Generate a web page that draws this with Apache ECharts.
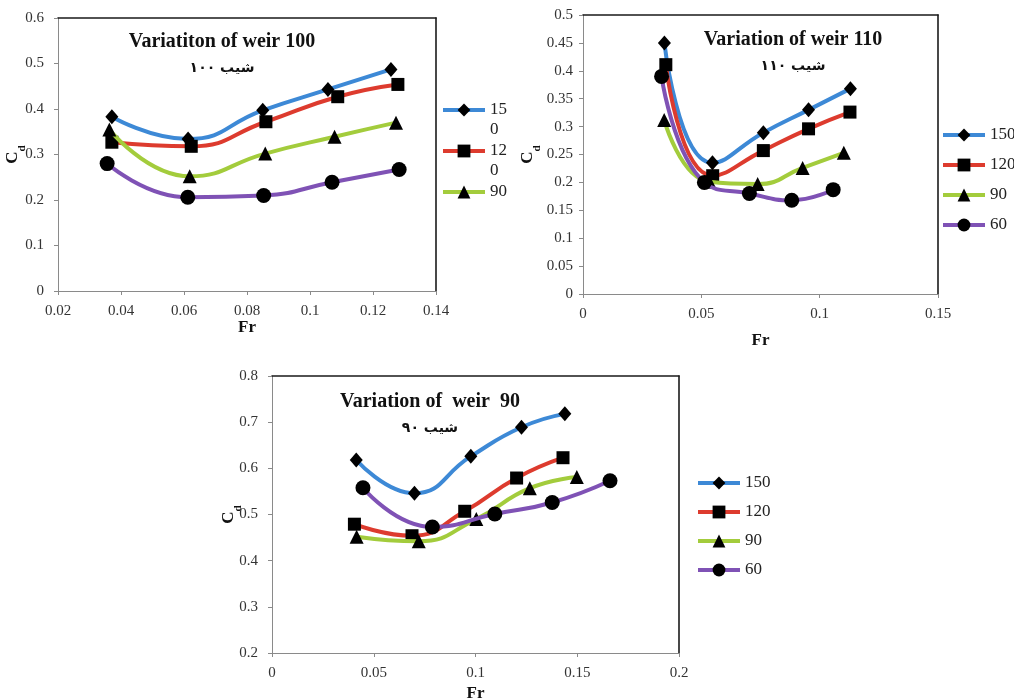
<!DOCTYPE html>
<html><head><meta charset="utf-8">
<script src="https://cdn.jsdelivr.net/npm/echarts@6/dist/echarts.min.js"></script>
<style>html,body{margin:0;padding:0;background:#fff}#c{width:1014px;height:698px}</style>
</head><body><div id="c"></div>
<script>
// ---- Weir 100 ----
const w100_fr_150 = [0.0371, 0.0613, 0.0850, 0.1057, 0.1257];
const w100_cd_150 = [0.383, 0.334, 0.397, 0.443, 0.487];
const w100_fr_120 = [0.0371, 0.0623, 0.0860, 0.1088, 0.1279];
const w100_cd_120 = [0.327, 0.318, 0.372, 0.427, 0.454];
const w100_fr_90  = [0.0363, 0.0618, 0.0858, 0.1078, 0.1273];
const w100_cd_90  = [0.355, 0.252, 0.302, 0.339, 0.370];
const w100_fr_60  = [0.0356, 0.0612, 0.0853, 0.1070, 0.1283];
const w100_cd_60  = [0.280, 0.206, 0.210, 0.239, 0.267];
// ---- Weir 110 ----
const w110_fr_150 = [0.0344, 0.0547, 0.0762, 0.0953, 0.1130];
const w110_cd_150 = [0.450, 0.235, 0.289, 0.330, 0.368];
const w110_fr_120 = [0.0350, 0.0548, 0.0762, 0.0953, 0.1128];
const w110_cd_120 = [0.411, 0.212, 0.257, 0.296, 0.326];
const w110_fr_90  = [0.0343, 0.0534, 0.0738, 0.0928, 0.1102];
const w110_cd_90  = [0.312, 0.201, 0.197, 0.226, 0.253];
const w110_fr_60  = [0.0332, 0.0513, 0.0703, 0.0882, 0.1057];
const w110_cd_60  = [0.390, 0.200, 0.180, 0.168, 0.187];
// ---- Weir 90 ----
const w90_fr_150 = [0.0414, 0.0700, 0.0977, 0.1226, 0.1439];
const w90_cd_150 = [0.618, 0.546, 0.626, 0.689, 0.718];
const w90_fr_120 = [0.0405, 0.0688, 0.0947, 0.1202, 0.1430];
const w90_cd_120 = [0.479, 0.454, 0.507, 0.579, 0.623];
const w90_fr_90  = [0.0416, 0.0721, 0.1004, 0.1267, 0.1498];
const w90_cd_90  = [0.452, 0.442, 0.490, 0.557, 0.581];
const w90_fr_60  = [0.0447, 0.0788, 0.1095, 0.1377, 0.1661];
const w90_cd_60  = [0.558, 0.473, 0.501, 0.526, 0.573];

const seriesNames = ['150', '120', '90', '60'];
const titles = ['Variatiton of weir 100', 'Variation of weir 110', 'Variation of  weir  90'];
const subtitles = ['شیب ۱۰۰', 'شیب ۱۱۰', 'شیب ۹۰'];

const colors = { '150': '#3D89D6', '120': '#DD3B2E', '90': '#A3CC3C', '60': '#7F52B5' };
const symbols = { '150': 'diamond', '120': 'rect', '90': 'triangle', '60': 'circle' };
const symSizes = { '150': [13, 15], '120': 13, '90': 14, '60': 15 };

const charts = [
  { fr: [w100_fr_150, w100_fr_120, w100_fr_90, w100_fr_60], cd: [w100_cd_150, w100_cd_120, w100_cd_90, w100_cd_60] },
  { fr: [w110_fr_150, w110_fr_120, w110_fr_90, w110_fr_60], cd: [w110_cd_150, w110_cd_120, w110_cd_90, w110_cd_60] },
  { fr: [w90_fr_150, w90_fr_120, w90_fr_90, w90_fr_60], cd: [w90_cd_150, w90_cd_120, w90_cd_90, w90_cd_60] }
];

const SERIF = "'Liberation Serif', 'Times New Roman', serif";
const grids = [
  { left: 58, top: 18, width: 378, height: 273, outerBoundsMode: 'none', containLabel: false },
  { left: 583, top: 15, width: 355, height: 279, outerBoundsMode: 'none', containLabel: false },
  { left: 272, top: 376, width: 407, height: 277, outerBoundsMode: 'none', containLabel: false }
];
const xRange = [[0.02, 0.14, 0.02], [0, 0.15, 0.05], [0, 0.2, 0.05]];
const yRange = [[0, 0.6, 0.1], [0, 0.5, 0.05], [0.2, 0.8, 0.1]];
const frGap = [28, 38, 32];
const cdGap = [30, 40, 28];
const yLabMargin = [14, 10, 14];

const xAxes = [], yAxes = [], series = [];
grids.forEach((g, i) => {
  xAxes.push({
    type: 'value', gridIndex: i, min: xRange[i][0], max: xRange[i][1], interval: xRange[i][2],
    name: 'Fr', nameLocation: 'middle', nameGap: frGap[i], nameMoveOverlap: false,
    nameTextStyle: { fontFamily: SERIF, fontWeight: 'bold', fontSize: 17, color: '#111' },
    axisLine: { lineStyle: { color: '#8a8a8a', width: 1 } },
    axisTick: { show: true, inside: false, length: 4, lineStyle: { color: '#8a8a8a' } },
    axisLabel: { fontFamily: SERIF, fontSize: 15, color: '#333', margin: 13 },
    splitLine: { show: false }
  });
  yAxes.push({
    type: 'value', gridIndex: i, min: yRange[i][0], max: yRange[i][1], interval: yRange[i][2],
    name: '{c|C}{d|d}', nameLocation: 'middle', nameGap: cdGap[i], nameRotate: 90, nameMoveOverlap: false,
    nameTextStyle: {
      rich: {
        c: { fontFamily: SERIF, fontWeight: 'bold', fontSize: 17, color: '#111', verticalAlign: 'top', lineHeight: 24 },
        d: { fontFamily: SERIF, fontWeight: 'bold', fontSize: 11, color: '#111', verticalAlign: 'bottom', lineHeight: 11 }
      }
    },
    axisLine: { show: true, lineStyle: { color: '#8a8a8a', width: 1 } },
    axisTick: { show: true, inside: false, length: 4, lineStyle: { color: '#8a8a8a' } },
    axisLabel: { fontFamily: SERIF, fontSize: 15, color: '#333', margin: yLabMargin[i] },
    splitLine: { show: false }
  });
});
// frame (top and right borders)
grids.forEach((g, i) => {
  xAxes.push({
    type: 'value', gridIndex: i, position: 'top', min: xRange[i][0], max: xRange[i][1],
    axisLine: { show: true, onZero: false, lineStyle: { color: '#1a1a1a', width: 1.6 } },
    axisTick: { show: false }, axisLabel: { show: false }, splitLine: { show: false }
  });
  yAxes.push({
    type: 'value', gridIndex: i, position: 'right', min: yRange[i][0], max: yRange[i][1],
    axisLine: { show: true, onZero: false, lineStyle: { color: '#1a1a1a', width: 1.6 } },
    axisTick: { show: false }, axisLabel: { show: false }, splitLine: { show: false }
  });
});

charts.forEach((c, i) => {
  seriesNames.forEach((n, k) => {
    series.push({
      type: 'line', name: n, xAxisIndex: i, yAxisIndex: i,
      data: c.fr[k].map((x, j) => [x, c.cd[k][j]]),
      smooth: 0.5,
      symbol: symbols[n], symbolSize: symSizes[n], showSymbol: true,
      lineStyle: { color: colors[n], width: 4 },
      itemStyle: { color: '#000' },
      z: 2 + k
    });
  });
});

const legendText = { fontFamily: SERIF, fontSize: 17, color: '#222', lineHeight: 20 };
const legendCommon = { orient: 'vertical', padding: 0, itemWidth: 42, itemHeight: 16, selectedMode: false,
  lineStyle: { width: 4 } };
const legends = [
  Object.assign({}, legendCommon, {
    left: 441, top: 80, itemGap: -19,
    data: ['150', '120', '90'],
    formatter: n => ({ '150': '\n15\n0', '120': '\n12\n0', '90': '\n90\n' })[n],
    textStyle: legendText
  }),
  Object.assign({}, legendCommon, {
    left: 941, top: 125, itemGap: 10, data: seriesNames, textStyle: legendText
  }),
  Object.assign({}, legendCommon, {
    left: 696, top: 473, itemGap: 9, data: seriesNames, textStyle: legendText
  })
];

const titlePos = [[222, 42, 68], [793, 40, 66], [430, 402, 428]];
const graphics = [];
titlePos.forEach((p, i) => {
  graphics.push({
    type: 'text', x: p[0], y: p[1], z: 100,
    style: { text: titles[i], textAlign: 'center', textVerticalAlign: 'middle',
      font: "bold 20px 'Liberation Serif', 'Times New Roman', serif", fill: '#111' }
  });
  graphics.push({
    type: 'text', x: p[0], y: p[2], z: 100,
    style: { text: subtitles[i], textAlign: 'center', textVerticalAlign: 'middle',
      font: "bold 14px 'DejaVu Sans', 'Noto Sans', sans-serif", fill: '#111' }
  });
});

const chart = echarts.init(document.getElementById('c'), null, { renderer: 'canvas' });
chart.setOption({
  animation: false,
  backgroundColor: '#fff',
  grid: grids,
  xAxis: xAxes,
  yAxis: yAxes,
  legend: legends,
  series: series,
  graphic: graphics
});
</script>
</body></html>
